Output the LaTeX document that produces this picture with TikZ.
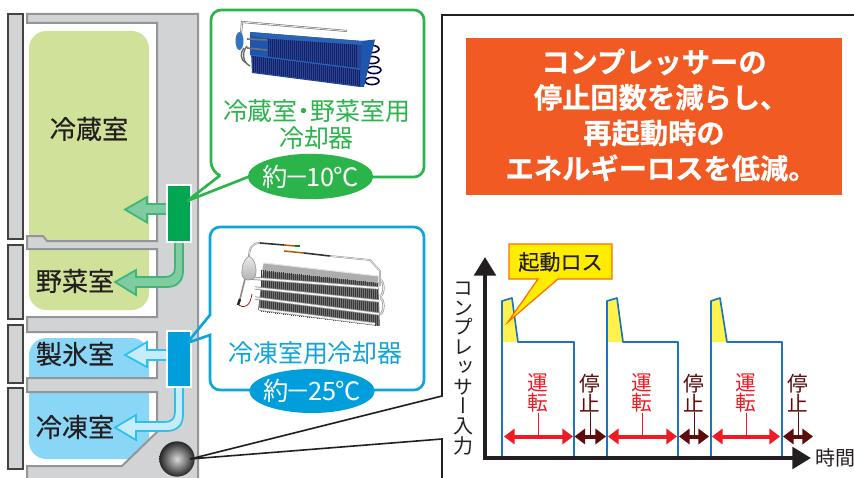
\documentclass[tikz,border=0pt]{standalone}
\usepackage{fontspec}
\usetikzlibrary{arrows.meta,calc,shapes.geometric}
\setmainfont{Noto Sans CJK JP}
\newfontfamily\jpb[FakeBold=0.7]{Noto Sans CJK JP Bold}
\newfontfamily\jpm[FakeBold=0.35]{Noto Sans CJK JP}
\newfontfamily\jpv[RawFeature={+vert}]{Noto Sans CJK JP}
\definecolor{ink}{HTML}{231F20}
\definecolor{wallfill}{HTML}{D1D3D4}
\definecolor{wallline}{HTML}{939598}
\definecolor{fresh}{HTML}{D0E299}
\definecolor{frost}{HTML}{8AD6F7}
\definecolor{gcool}{HTML}{2BB44A}
\definecolor{bcool}{HTML}{0EA5DC}
\definecolor{coolg}{HTML}{00A651}
\definecolor{coolb}{HTML}{009FDB}
\definecolor{garrf}{HTML}{80CBA0}
\definecolor{garrl}{HTML}{3DB678}
\definecolor{barrf}{HTML}{C6ECFB}
\definecolor{barrl}{HTML}{2CC0F0}
\definecolor{orangebox}{HTML}{F15A22}
\definecolor{runred}{HTML}{ED1C24}
\definecolor{stopred}{HTML}{5E0B0B}
\definecolor{curve}{HTML}{1B75BC}
\definecolor{loss}{HTML}{FFF24F}
\definecolor{finbase}{HTML}{27459A}
\definecolor{findark}{HTML}{16205F}
\definecolor{finlight}{HTML}{2A62B4}
\definecolor{finmid}{HTML}{1E56AE}
\tikzset{
 wall/.style={fill=wallfill,draw=wallline,line width=1.5pt},
 doorpanel/.style={fill=wallfill,draw=ink!85,line width=.9pt},
 room/.style={font=\jpm\fontsize{19.6pt}{22pt}\selectfont,text=ink,inner sep=0pt},
 coolname/.style={font=\fontsize{18.7pt}{20.5pt}\selectfont,inner sep=0pt,align=center},
 tempbadge/.style={ellipse,inner sep=0pt},
 temptext/.style={inner sep=0pt,text=white,font=\fontsize{19pt}{22pt}\selectfont},
 vlabel/.style={inner sep=0pt,align=center,font=\fontsize{15.5pt}{15.4pt}\selectfont},
 runarrow/.style={draw=runred,line width=3pt,{Triangle[length=8pt,width=11.5pt]}-{Triangle[length=8pt,width=11.5pt]}},
 stoparrow/.style={draw=stopred,line width=3pt,{Triangle[length=8pt,width=11.5pt]}-{Triangle[length=8pt,width=11.5pt]}},
 axisline/.style={draw=ink,line width=3.4pt,-{Triangle[length=14pt,width=16pt]}},
 powercurve/.style={draw=curve,line width=1.25pt,line join=round},
 leader/.style={draw=ink,line width=1.2pt},
}
\begin{document}
\begin{tikzpicture}[x=0.75pt,y=-0.75pt]
\useasboundingbox (0,0) rectangle (854,478);
\fill[white] (0,0) rectangle (854,478);

% coloured compartments (the walls are drawn over them)
\fill[fresh,rounded corners=13pt] (29,31) rectangle (149,262);
\fill[fresh,rounded corners=13pt] (29,235) rectangle (149,310);
\fill[frost,rounded corners=13pt] (29,338) rectangle (149,400);
\fill[frost,rounded corners=13pt] (29,370) rectangle (149,459);

% cabinet
\path[wall] (27,14) -- (198,14) -- (198,479) -- (27,479) -- (27,466) -- (122,466) -- (157,432) -- (157,392)
 -- (27,392) -- (27,378) -- (157,378) -- (157,332) -- (27,332) -- (27,317) -- (157,317) -- (157,249)
 -- (27,249) -- (27,236) -- (43,236) -- (47,241) -- (157,241) -- (157,23) -- (27,23) -- cycle;

% doors
\path[doorpanel] (8,14) rectangle (23,239);
\path[doorpanel] (8,245) rectangle (23,319);
\path[doorpanel] (8,325) rectangle (23,383);
\path[doorpanel] (8,388) rectangle (23,469);

% air flow arrows
\path[fill=garrf,draw=garrl,line width=1.3pt,line join=miter]
 (167,204) -- (147,204) -- (147,197) -- (125,209.5) -- (147,222.5) -- (147,214) -- (167,214);
\path[fill=garrf,draw=garrl,line width=1.3pt,line join=miter]
 (175,240) -- (175,268) .. controls (175,274) and (171,277) .. (165,277) -- (136,277) -- (136,270) -- (115,282)
 -- (136,295) -- (136,287) -- (167,287) .. controls (177,287) and (183,281) .. (183,271) -- (183,240);
\path[fill=barrf,draw=barrl,line width=1.3pt,line join=miter]
 (167,350) -- (147,350) -- (147,342) -- (125,355) -- (147,367) -- (147,360) -- (167,360);
\path[fill=barrf,draw=barrl,line width=1.3pt,line join=miter]
 (175,386) -- (175,412) .. controls (175,419) and (171,422) .. (165,422) -- (136,422) -- (136,415) -- (115,427.5)
 -- (136,440) -- (136,431) -- (167,431) .. controls (177,431) and (183,425) .. (183,415) -- (183,386);

% coolers in the cabinet
\node[draw=white,line width=1.5pt,fill=coolg,minimum width=17.5pt,minimum height=42.5pt,inner sep=0pt] (coolerG) at (179,213.5) {};
\node[draw=white,line width=1.5pt,fill=coolb,minimum width=17.5pt,minimum height=42.5pt,inner sep=0pt] (coolerB) at (179,359) {};

% compressor
\node[circle,minimum size=26.5pt,inner sep=0pt,inner color=black!15,outer color=black!85] (comp) at (177,459) {};

\node[room] (r1) at (89,129) {冷蔵室};
\node[room] (r2) at (75,281) {野菜室};
\node[room] (r3) at (75,354) {製氷室};
\node[room] (r4) at (75,427) {冷凍室};

% green balloon
\coordinate (gtip) at (187,201);
\draw[gcool,line width=2pt,line join=miter] (gtip) -- (248,177) [rounded corners=7.5pt] -- (424,177) -- (424,10) -- (211,10) -- (211,172) [sharp corners] -- (220,175.5) -- (gtip);
% blue balloon
\coordinate (btip) at (187,343);
\draw[bcool,line width=2pt,line join=miter] (btip) -- (210,335) [rounded corners=7.5pt] -- (210,390) -- (424,390) -- (424,227) -- (210,227) [sharp corners] -- (210,315) -- (btip);

% blue fin cooler (photo)
\begin{scope}
 \draw[black!55,line width=1.5pt] (241,34) -- (242,22) -- (347,31);
 \draw[black!8,line width=.6pt] (241,34) -- (242,22) -- (347,31);
 \foreach \cy/\cx in {49/372,60/372,70/374,81/372}{
   \draw[black!75!blue,line width=1.2pt] (\cx,\cy) ellipse (5.2pt and 2.7pt);
 }
 \fill[finmid] (361,41) -- (375,39.5) -- (364,87) -- (359,87) -- cycle;
 \fill[finbase] (250,32) -- (362,41) -- (360,87) -- (252,73) -- cycle;
 \foreach \i in {0,...,53}{
   \pgfmathsetmacro{\xa}{250+2*\i}
   \pgfmathsetmacro{\ya}{36+.08*2*\i}
   \pgfmathsetmacro{\yb}{55+.12*2*\i}
   \draw[findark,line width=.75pt] (\xa,\ya) -- (\xa,\yb);
 }
 \foreach \i in {0,...,53}{
   \pgfmathsetmacro{\xa}{253+2*\i}
   \pgfmathsetmacro{\ya}{56+.13*2*\i}
   \pgfmathsetmacro{\yb}{72+.13*2*\i}
   \draw[findark,line width=.75pt] (\xa,\ya) -- (\xa,\yb);
 }
 \fill[finlight] (250,32) -- (362,41) -- (362,45) -- (266,38.5) -- (250,36) -- cycle;
 \fill[finmid] (250,36) -- (268,38.5) -- (268,58) -- (250,55) -- cycle;
 \draw[finlight,line width=.8pt] (251,55) -- (360,69);
 \draw[black!55,line width=1.2pt] (247,39) -- (267,40);
 \draw[black!55,line width=1.2pt] (247,48) -- (267,50);
 \draw[black!60,line width=1pt] (247,46) .. controls (242,52) and (242,62) .. (250,66);
 \draw[black!60,line width=1pt] (244,48) .. controls (240,52) and (240,60) .. (246,63);
 \fill[teal!65!blue!80!white] (239.5,41) ellipse (3pt and 6.8pt);
\end{scope}

% silver cooler (photo)
\begin{scope}
 \fill[black!55] (264,263) -- (378,276) -- (380,326) -- (258,310) -- cycle;
 \fill[black!32] (264,263) -- (378,276) -- (378,283) -- (262,271) -- cycle;
 \foreach \i in {0,...,58}{
   \pgfmathsetmacro{\xa}{261+2*\i}
   \pgfmathsetmacro{\ya}{270+.11*2*\i}
   \pgfmathsetmacro{\yb}{312+.12*2*\i}
   \draw[black!78,line width=.55pt] (\xa,\ya) -- (\xa,\yb);
 }
 \draw[black!10,line width=.8pt] (264,263) -- (378,276);
 \foreach \xa/\ya/\xb/\yb in {249/278/378/288,255/288/379/301,255/298/379/314,259/309/375/324}{
   \draw[black!45,line width=2.4pt] (\xa,\ya) -- (\xb,\yb);
   \draw[black!5,line width=1.3pt] (\xa,\ya) -- (\xb,\yb);
 }
 \foreach \cy in {288,306}{
   \draw[black!45,line width=1.6pt] (380,{\cy-8}) arc (-90:90:3.5 and 8);
   \draw[black!8,line width=.7pt] (380,{\cy-8}) arc (-90:90:3.5 and 8);
 }
 \draw[black!45,line width=1.3pt] (249,258) .. controls (249,248) and (252,243) .. (260,243);
 \draw[black!8,line width=.5pt] (249,258) .. controls (249,248) and (252,243) .. (260,243);
 \draw[black!80,line width=1.2pt] (260,243) -- (284,245);
 \draw[orange!70!black,line width=1.1pt] (284,245) -- (295,246);
 \draw[green!55!black,line width=1.5pt] (295,246) -- (300,246);
 \draw[orange!70!black,line width=1.1pt] (284,251) -- (304,253);
 \draw[black!80,line width=1.2pt] (304,253) -- (330,256);
 \draw[black!40,line width=1.3pt] (330,256) -- (370,260) -- (380,271) -- (380,286);
 \draw[black!8,line width=.5pt] (330,256) -- (370,260) -- (380,271) -- (380,286);
 \draw[black!45,line width=1.2pt] (245,279) -- (239,303);
 \draw[black!85,line width=1.8pt] (240,299) -- (238,305);
 \draw[red!50!black,line width=.5pt] (239,305) .. controls (245,309) and (250,306) .. (252,294);
 \draw[black!40,line width=.5pt,top color=black!8,bottom color=black!30] (249,256) .. controls (254,259) and (256,264) .. (256,272) .. controls (256,278) and (252,280) .. (248,280) .. controls (244,280) and (241,277) .. (242,270) .. controls (242,264) and (245,259) .. (249,256) -- cycle;
\end{scope}

\node[coolname,text=gcool] (nameG) at (316.5,124.5) {冷蔵室\kern-.25em・\kern-.25em野菜室用\\冷却器};
\node[coolname,text=bcool] (nameB) at (315.5,353) {冷凍室用冷却器};
\node[tempbadge,fill=gcool,minimum width=94pt,minimum height=34pt] (tempG) at (310.5,176.5) {};
\node[temptext] (tempGt) at (tempG) {約\kern-.12em－\kern-.12em10\kern-.05em℃};
\node[tempbadge,fill=coolb,minimum width=94pt,minimum height=33pt] (tempB) at (312,391) {};
\node[temptext] (tempBt) at (tempB) {約\kern-.12em－\kern-.12em25\kern-.05em℃};

% panel frame and leaders from the compressor
\coordinate (fa) at (854,15);
\coordinate (fb) at (442,15);
\coordinate (fc) at (442,396);
\coordinate (fd) at (442,439);
\coordinate (fe) at (442,479);
\coordinate (cp) at (190,459);
\draw[leader] (fa) -- (fb) -- (fc) -- (cp) -- (fd) -- (fe);

% headline
\node[fill=orangebox,minimum width=282pt,minimum height=117.75pt,inner sep=0pt] (headbox) at (654,116.5) {};
\node[inner sep=0pt,text=white,align=center,font=\jpb\fontsize{21.2pt}{26.6pt}\selectfont] (head) at (654,115) {コンプレッサーの\\停止回数を減らし、\kern-.5em\\再起動時の\\エネルギーロスを低減。\kern-.5em};

% chart
\fill[loss] (502,301) -- (512,298) -- (518,342) -- (502,342) -- cycle;
\fill[loss] (607,301) -- (617,298) -- (623,342) -- (607,342) -- cycle;
\fill[loss] (711,301) -- (720,298) -- (727,342) -- (711,342) -- cycle;
\draw[powercurve] (502,458) -- (502,301) -- (512,298) -- (518,342) -- (574,342) -- (574,458);
\draw[powercurve] (607,458) -- (607,301) -- (617,298) -- (623,342) -- (678,342) -- (678,458);
\draw[powercurve] (711,458) -- (711,301) -- (720,298) -- (727,342) -- (782,342) -- (782,458);

\coordinate (origin) at (485,458);
\coordinate (ytop) at (485,257);
\coordinate (xend) at (811,458);
\draw[axisline] ($(origin)+(-2,0)$) -- (xend);
\draw[axisline] (origin) -- (ytop);

% loss callout
\path[fill=yellow!95!orange,draw=orange!85!red,line width=.9pt,line join=miter]
 (509,244) -- (612,244) -- (612,279) -- (558,279) -- (508,322) -- (538,279) -- (509,279) -- cycle;
\node[inner sep=0pt,text=ink,font=\jpm\fontsize{15.8pt}{18pt}\selectfont] (loss) at (560.5,262) {起動ロス};

% vertical texts
\node[vlabel,text=ink,font=\jpv\fontsize{15pt}{14.8pt}\selectfont] (ylab) at (463,368.5) {コ\\ン\\プ\\レ\\ッ\\サ\\ー\\入\\力};
\node[inner sep=0pt,text=ink,anchor=west,font=\fontsize{15pt}{17pt}\selectfont] (xlab) at (815,458) {時間};

\foreach \nm/\x in {a/538,b/642,c/746}{
  \node[vlabel,text=runred] (run\nm) at (\x,393) {運\\転};
  \coordinate (runf\nm) at (\x,436.5);
  \draw[runred,line width=.7pt] (run\nm.south) -- (runf\nm);
}
\foreach \nm/\x in {a/590,b/694,c/798}{
  \node[vlabel,text=stopred] (stop\nm) at (\x,393) {停\\止};
  \coordinate (stopf\nm) at (\x,436.5);
  \draw[stopred,line width=.7pt] (stop\nm.south) -- (stopf\nm);
}
\coordinate (a1) at (504,436.5); \coordinate (a2) at (573,436.5);
\coordinate (a3) at (574.5,436.5); \coordinate (a4) at (606,436.5);
\coordinate (a5) at (608,436.5); \coordinate (a6) at (677,436.5);
\coordinate (a7) at (679,436.5); \coordinate (a8) at (709,436.5);
\coordinate (a9) at (712,436.5); \coordinate (a10) at (780,436.5);
\coordinate (a11) at (783,436.5); \coordinate (a12) at (813,436.5);
\draw[runarrow] (a1) -- (a2);
\draw[stoparrow] (a3) -- (a4);
\draw[runarrow] (a5) -- (a6);
\draw[stoparrow] (a7) -- (a8);
\draw[runarrow] (a9) -- (a10);
\draw[stoparrow] (a11) -- (a12);
\end{tikzpicture}
\end{document}
